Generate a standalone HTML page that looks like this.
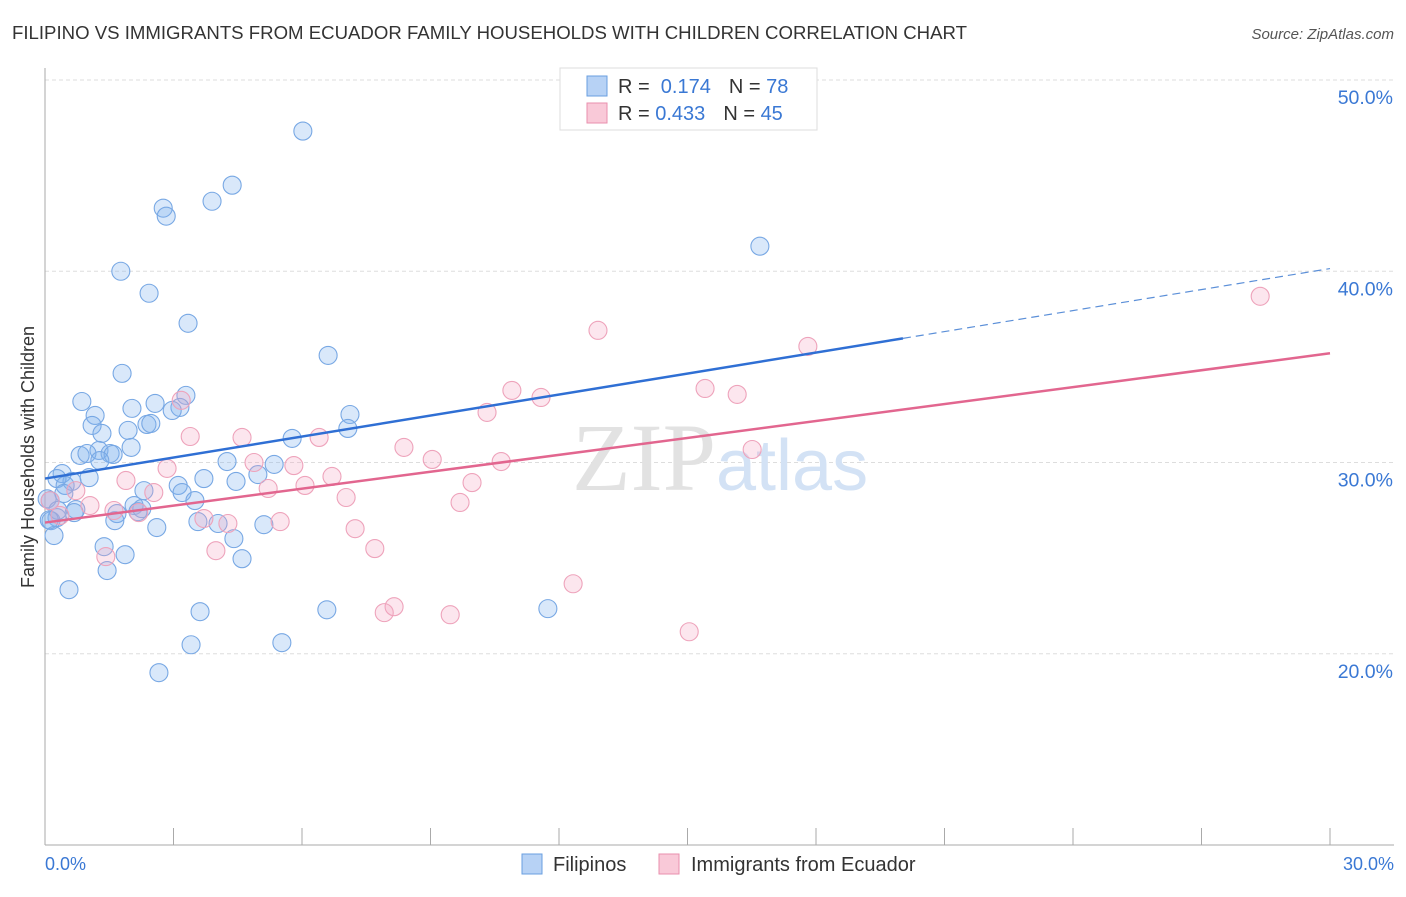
<!DOCTYPE html>
<html><head><meta charset="utf-8"><style>
body{margin:0;background:#fff;font-family:"Liberation Sans",sans-serif;}
</style></head><body>
<svg width="1406" height="892" xmlns="http://www.w3.org/2000/svg">
<text x="12" y="39" font-size="18" fill="#333" textLength="955" lengthAdjust="spacingAndGlyphs">FILIPINO VS IMMIGRANTS FROM ECUADOR FAMILY HOUSEHOLDS WITH CHILDREN CORRELATION CHART</text>
<text x="1394" y="39" font-size="15" fill="#555" font-style="italic" text-anchor="end">Source: ZipAtlas.com</text>
<g id="grid"></g>
<text x="716" y="490" font-size="96" fill="#e2e2e2" text-anchor="end" font-family="Liberation Serif">ZIP</text>
<text x="716" y="490" font-size="72" fill="#d3e2f5">atlas</text>
<line x1="45" y1="68" x2="45" y2="845" stroke="#aaa"/>
<line x1="45" y1="845" x2="1394" y2="845" stroke="#aaa"/>
<g id="xticks"></g>
<text x="45" y="870" font-size="18" fill="#3a78d4">0.0%</text>
<text x="1394" y="870" font-size="18" fill="#3a78d4" text-anchor="end">30.0%</text>
<text transform="translate(34,457) rotate(-90)" font-size="18" fill="#333" text-anchor="middle">Family Households with Children</text>
<g id="marks"></g>
<g>
<rect x="560" y="68" width="257" height="62" fill="#fff" stroke="#ddd"/>
<rect x="587" y="76" width="20" height="20" fill="#b7d2f5" stroke="#6a9fe0"/>
<rect x="587" y="103" width="20" height="20" fill="#f9c9d8" stroke="#e98fae"/>
<text x="618" y="93" font-size="20" fill="#333">R = <tspan fill="#3a78d4">&#160;0.174</tspan><tspan dx="18">N = </tspan><tspan fill="#3a78d4">78</tspan></text>
<text x="618" y="120" font-size="20" fill="#333">R = <tspan fill="#3a78d4">0.433</tspan><tspan dx="18">N = </tspan><tspan fill="#3a78d4">45</tspan></text>
</g>
<g>
<rect x="522" y="854" width="20" height="20" fill="#b7d2f5" stroke="#6a9fe0"/>
<text x="553" y="871" font-size="20" fill="#333">Filipinos</text>
<rect x="659" y="854" width="20" height="20" fill="#f9c9d8" stroke="#e98fae"/>
<text x="691" y="871" font-size="20" fill="#333">Immigrants from Ecuador</text>
</g>
</svg>
<script>
const yTicks=[20,30,40,50];
const xTicks=[0,3,6,9,12,15,18,21,24,27,30];
const blueX=[6.02,4.37,3.90,2.76,2.83,16.69,1.77,2.43,3.34,6.61,1.80,3.29,0.86,2.03,2.57,3.15,2.97,1.17,7.12,1.10,2.38,2.47,1.94,1.33,5.77,7.07,2.01,1.26,0.82,0.98,1.52,1.59,1.28,4.25,5.35,4.97,3.71,4.46,0.40,1.03,0.63,0.28,0.47,3.11,3.20,2.31,3.50,0.44,2.08,2.17,2.26,0.72,0.68,1.68,1.63,0.28,0.14,3.57,4.04,5.11,2.61,0.21,4.41,1.38,1.87,4.60,1.45,0.56,3.62,6.58,11.74,5.53,3.41,2.66,0.12,0.05,0.30,0.10];
const blueY=[47.33,44.50,43.66,43.30,42.88,41.31,40.0,38.85,37.28,35.60,34.66,33.51,33.19,32.83,33.09,32.88,32.72,32.46,32.51,31.94,31.99,32.04,31.68,31.52,31.26,31.78,30.79,30.63,30.37,30.47,30.47,30.42,30.10,30.05,29.90,29.37,29.16,29.01,29.42,29.21,29.01,29.16,28.80,28.80,28.43,28.53,28.01,28.38,27.75,27.43,27.59,27.54,27.38,27.33,26.96,27.12,26.96,26.91,26.81,26.75,26.60,26.18,26.02,25.60,25.18,24.97,24.35,23.35,22.20,22.30,22.36,20.58,20.47,19.01,28.01,28.1,27.5,27.0];
const pinkX=[28.37,12.91,17.81,15.41,10.90,11.58,16.16,10.32,3.18,3.39,4.60,6.40,8.38,16.51,9.04,4.88,5.81,10.65,6.70,2.85,1.89,9.97,6.07,5.21,2.54,0.72,7.03,9.69,1.05,1.61,2.19,0.35,3.71,4.27,5.49,7.24,3.99,7.70,1.42,12.33,8.15,7.92,9.46,15.04,0.12];
const pinkY=[38.69,36.91,36.07,33.87,33.77,33.40,33.56,32.62,33.25,31.36,31.31,31.31,30.79,30.68,30.16,30.0,29.84,30.05,29.27,29.69,29.06,28.95,28.80,28.64,28.43,28.53,28.17,27.91,27.75,27.49,27.38,27.23,27.07,26.81,26.91,26.54,25.39,25.50,25.08,23.66,22.46,22.15,22.04,21.15,28.0];
const blueTrend=[29.16,40.14]; const blueSolidEnd=20.03;
const pinkTrend=[26.86,35.71];
const NS='http://www.w3.org/2000/svg';
const sx=v=>45+v*(1285/30);
const sy=v=>80+(50-v)*19.125;
function mk(t,a,p){const e=document.createElementNS(NS,t);for(const k in a)e.setAttribute(k,a[k]);p.appendChild(e);return e;}
const grid=document.getElementById('grid');
yTicks.forEach(v=>{
 const l=mk('line',{x1:45,x2:1394,y1:sy(v),y2:sy(v),stroke:'#ddd','stroke-dasharray':'4,3'},grid);
 
 
 const t=mk('text',{x:1393,y:sy(v)+24,'font-size':19.5,fill:'#3a78d4','text-anchor':'end'},grid);
 t.textContent=v.toFixed(1)+'%';
 
 
});
const xt=document.getElementById('xticks');
xTicks.forEach(v=>{
 const l=mk('line',{x1:sx(v),x2:sx(v),y1:828,y2:845,stroke:'#aaa'},xt);
 
 
});
const m=document.getElementById('marks');
blueX.forEach((x,i)=>{
 const c=mk('circle',{cx:sx(x),cy:sy(blueY[i]),r:9,fill:'rgba(130,178,238,0.3)',stroke:'#78a8e4','stroke-width':1.1},m);
 
 
});
pinkX.forEach((x,i)=>{
 const c=mk('circle',{cx:sx(x),cy:sy(pinkY[i]),r:9,fill:'rgba(245,165,195,0.28)',stroke:'#eea3bb','stroke-width':1.1},m);
 
 
});
const bm=blueTrend[0]+(blueTrend[1]-blueTrend[0])*blueSolidEnd/30;
let l1=mk('line',{x1:sx(0),y1:sy(blueTrend[0]),x2:sx(blueSolidEnd),y2:sy(bm),stroke:'#2f6fd4','stroke-width':2.5},m);


let l2=mk('line',{x1:sx(blueSolidEnd),y1:sy(bm),x2:sx(30),y2:sy(blueTrend[1]),stroke:'#5b8fd8','stroke-width':1.2,'stroke-dasharray':'8,5'},m);


let l3=mk('line',{x1:sx(0),y1:sy(pinkTrend[0]),x2:sx(30),y2:sy(pinkTrend[1]),stroke:'#e2668f','stroke-width':2.5},m);


</script>
</body></html>
